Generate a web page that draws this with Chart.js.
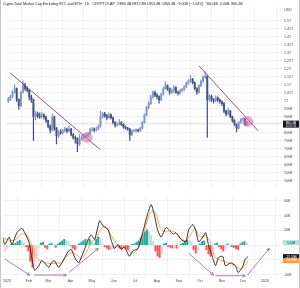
<!DOCTYPE html>
<html>
<head>
<meta charset="utf-8">
<script src="https://cdn.jsdelivr.net/npm/chart.js@4.4.1/dist/chart.umd.min.js"></script>
<style>
html, body { margin: 0; padding: 0; background: #fff; }
#wrap { position: relative; width: 300px; height: 288px; box-sizing: border-box;
  border-left: 1px solid #c9c9c9; border-right: 1px solid #c9c9c9; overflow: hidden; }
#top { position: absolute; left: 0; top: 0; }
#bottom { position: absolute; left: 0; top: 193px; }
#title { position: absolute; left: 2px; top: 2px; z-index: 2; white-space: nowrap;
  font: 3.6px 'Liberation Sans', Arial, sans-serif; color: #131722; }
</style>
</head>
<body>
<div id="wrap">
  <div id="title">Crypto Total Market Cap Excluding BTC and ETH · 1D · CRYPTOCAP&nbsp;&nbsp;O869.4B H872.8B L853.4B C860.4B −9.00B (−1.04%)&nbsp;&nbsp;&nbsp;860.4B&nbsp;&nbsp;0.00B&nbsp;&nbsp;860.4B</div>
  <canvas id="top" width="298" height="193"></canvas>
  <canvas id="bottom" width="298" height="95"></canvas>
</div>
<script>
// days counted from 1 Jan 2025
const days = [-3,0,3,6,9,12,15,18,21,24,27,30,33,36,39,42,45,48,51,54,57,60,63,66,69,72,75,78,81,84,
  87,90,93,96,99,102,105,108,111,114,117,120,123,126,129,132,135,138,141,144,147,150,153,156,159,162,165,168,171,174,
  177,180,183,186,189,192,195,198,201,204,207,210,213,216,219,222,225,228,231,234,237,240,243,246,249,252,255,258,261,264,
  267,270,273,276,279,282,285,288,291,294,297,300,303,306,309,312,315,318,321,324,327,330,333,336,339];

// price in billions USD
const opens = [1000,1010,1025,1053,1076,1006,970,1053,1100,1076,1065,1025,1006,900,918,906,900,912,900,876,841,818,900,829,782,806,800,812,824,812,
  824,788,771,765,730,759,771,777,782,794,818,824,818,824,841,900,918,906,894,912,894,865,847,853,865,853,835,829,824,788,
  812,814,818,812,829,865,912,959,982,1025,1053,1035,1025,1006,1041,1076,1094,1076,1053,1065,1082,1053,1047,1065,1070,1088,1112,1123,1135,1112,
  1076,1053,1094,1123,1147,1153,1006,1029,1006,1000,1018,1006,994,982,935,918,935,900,876,853,829,865,882,888,853];
const highs = [1022,1035,1062,1100,1080,1012,1060,1125,1110,1088,1070,1035,1012,935,930,925,930,920,905,880,848,918,905,835,815,820,822,835,830,842,
  828,795,780,770,790,785,790,792,800,830,835,830,835,850,935,930,928,915,925,918,898,870,862,882,870,858,842,835,828,818,
  822,826,824,838,872,918,965,995,1035,1062,1060,1045,1030,1048,1085,1120,1100,1080,1072,1095,1088,1060,1072,1078,1095,1118,1130,1158,1140,1118,
  1082,1100,1130,1155,1182,1160,1040,1035,1015,1030,1025,1012,1000,988,942,955,940,905,882,858,872,890,895,892,870];
const lows = [988,1000,1018,1045,995,947,962,1048,1065,1055,1005,990,753,880,895,888,895,885,865,830,800,810,815,730,770,790,792,805,800,805,
  780,760,735,682,720,752,765,770,775,788,810,805,812,818,836,890,898,880,888,885,855,835,840,848,845,828,822,815,753,782,
  805,806,805,808,824,860,905,950,975,1015,1025,1012,985,1000,1035,1070,1065,1040,1045,1050,1045,1035,1040,1055,1062,1080,1100,1115,1105,1068,
  1040,1048,1088,1115,1140,771,995,995,985,992,995,985,970,925,905,912,895,865,845,806,824,858,875,845,848];
const closes = [1010,1025,1053,1076,1006,970,1053,1100,1076,1065,1025,1006,900,918,906,900,912,900,876,841,818,900,829,782,806,800,812,824,812,824,
  788,771,765,730,759,771,777,782,794,818,824,818,824,841,900,918,906,894,912,894,865,847,853,865,853,835,829,824,788,812,
  814,818,812,829,865,912,959,982,1025,1053,1035,1025,1006,1041,1076,1094,1076,1053,1065,1082,1053,1047,1065,1070,1088,1112,1123,1135,1112,1076,
  1053,1094,1123,1147,1153,1006,1029,1006,1000,1018,1006,994,982,935,918,935,900,876,853,829,865,882,888,853,860.4];

// MACD pane, billions
const macdDays = [-7,-3,3,7,14,21,25,31,35,39,45,49,53,59,63,67,73,77,87,91,96,101,105,110,115,119,124,131,136,143,
  147,152,157,162,166,173,178,185,192,199,204,208,213,218,225,229,235,239,246,253,257,263,267,271,277,281,285,291,295,299,
  305,309,316,323,327,333,337,341];
const macdLine = [14,1,11,1,17,23,17,4.5,-17,-34,-28,-21,-24,-30,-24,-21,-30,-25,-8,-6,-17,-24,-17,-4.5,8,14,8,33,26,21,
  8,-4.5,0.6,-6,-2,-15,-8,-4.5,17,43,55,43,21,11,24,21,15,17,8,4.5,21,28,20,4.5,11,17,0.6,-17,-28,-17,
  -15,-28,-24,-28,-37,-30,-19,-15.5];
const signalDays = [-7,0,7,14,21,28,35,42,49,56,63,70,77,84,91,98,105,112,119,126,133,140,147,154,161,168,175,182,189,196,
  203,210,217,224,231,238,245,252,259,266,273,280,287,294,301,308,315,322,329,336,341];
const signalLine = [10,8,6,9,15,14,0,-18,-22,-24,-25,-24,-24,-16,-10,-13,-18,-10,4,9,22,25,14,3,-2,-4,-10,-9,3,25,
  45,44,23,18,20,17,11,6,13,22,11,13,6,-16,-20,-22,-25,-26,-32,-28,-20.9];
const histogram = [-9,-5,-2,1,2,3,5,7,6,3,-2,-8,-22,-30,-26,-14,-4,3,4,-3,-5,2,3,1,-3,2,4,6,8,7,
  5,-1,-4,-6,-4,2,4,6,8,7,8,5,3,8,11,9,2,-2,-4,-6,-6,-5,-4,-3,-4,-5,-4,-5,-6,-3,
  1,2,4,6,10,14,18,21,18,13,5,-8,-15,-17,-12,2,3,-2,-3,-4,-3,-4,-3,1,3,5,7,6,4,-6,
  -11,-8,2,5,6,-6,-12,-15,-12,2,3,-2,-5,-8,-6,2,1,-2,-3,-5,-6,2,4,5,3.4];

// axis ticks
const monthDays = [0,31,59,90,120,151,181,212,243,273,304,334,365];
const monthLabels = ['2025','Feb','Mar','Apr','May','Jun','Jul','Aug','Sep','Oct','Nov','Dec','2026'];
const priceTicks = [500,550,600,650,700,750,800,850,900,950,1000,1050,1100,1150,1200,1250,1300,1350,1400,1450,1500];
const macdTicks = [60,40,20,0,-20,-40];
const macdTickLabels = ['60B','40B','20B','','','-40B'];

// drawings: [day0, value0, day1, value1]
const trendLines = [[-1,1176,129,694],[270,1218,355,812]];
const markers = [[110,771],[340,871]];
const arrows = [[-3,-18.7,32,-40.6],[38,-40.6,84,-40.6],[88,-36.8,129,-4.5],
  [257,-11,292,-40.6],[295,-41.5,337,-41.5],[340,-40.6,371,-4.5]];

const X_MIN = -5.6, X_MAX = 389;
const FONT = 'Liberation Sans, Arial, sans-serif';
const GRID = '#eef0f4';
const UP = '#8398c8', DOWN = '#44547d';
const PURPLE = '#8e3c80';

function fmtPrice(v) {
  if (v >= 1000) return (Math.round(v / 10) / 100) + 'T';
  return v + 'B';
}

function xScale(showLabels) {
  return {
    type: 'linear', min: X_MIN, max: X_MAX, offset: false,
    afterBuildTicks: s => { s.ticks = monthDays.map(v => ({ value: v })); },
    afterFit: s => { s.height = showLabels ? 11 : 0; },
    grid: { color: GRID, lineWidth: 1, drawTicks: false },
    border: { display: false },
    ticks: {
      display: showLabels, autoSkip: false, maxRotation: 0, padding: 2,
      color: '#4a4a4a', font: { size: 3.6, family: FONT },
      callback: (v, i) => monthLabels[i]
    }
  };
}

const tagPlugin = {
  id: 'tags',
  afterDraw(chart, args, opts) {
    const ctx = chart.ctx, ca = chart.chartArea, y = chart.scales.y;
    (opts.items || []).forEach(t => {
      const py = y.getPixelForValue(t.value);
      const h = t.lines.length > 1 ? 7 : 5;
      ctx.save();
      ctx.fillStyle = t.bg;
      ctx.fillRect(ca.right + 1, py - 2.5, chart.width - ca.right - 1, h);
      ctx.fillStyle = t.fg;
      ctx.textAlign = 'center';
      ctx.textBaseline = 'middle';
      const cx = (ca.right + 1 + chart.width) / 2;
      ctx.font = '3.3px ' + FONT;
      ctx.fillText(t.lines[0], cx, py);
      if (t.lines[1]) { ctx.font = '2.7px ' + FONT; ctx.fillText(t.lines[1], cx, py + 2.8); }
      ctx.restore();
    });
  }
};

const arrowPlugin = {
  id: 'arrowHeads',
  afterDatasetsDraw(chart) {
    const ctx = chart.ctx;
    chart.data.datasets.forEach((ds, i) => {
      if (!ds.arrowHead) return;
      const pts = chart.getDatasetMeta(i).data;
      const a = pts[pts.length - 2], b = pts[pts.length - 1];
      const ang = Math.atan2(b.y - a.y, b.x - a.x);
      ctx.save();
      ctx.strokeStyle = ds.borderColor;
      ctx.lineWidth = ds.borderWidth;
      ctx.beginPath();
      ctx.moveTo(b.x - 3.2 * Math.cos(ang - 0.5), b.y - 3.2 * Math.sin(ang - 0.5));
      ctx.lineTo(b.x, b.y);
      ctx.lineTo(b.x - 3.2 * Math.cos(ang + 0.5), b.y - 3.2 * Math.sin(ang + 0.5));
      ctx.stroke();
      ctx.restore();
    });
  }
};

const candleColor = c => closes[c.dataIndex] >= opens[c.dataIndex] ? UP : DOWN;
const last = arr => arr[arr.length - 1];

new Chart(document.getElementById('top'), {
  type: 'line',
  data: {
    datasets: [
      {
        type: 'line', showLine: false,
        data: markers.map(m => ({ x: m[0], y: m[1] })),
        pointRadius: 5, pointBackgroundColor: 'rgba(214,104,170,0.55)',
        pointBorderColor: 'rgba(190,80,150,0.6)', pointBorderWidth: 0.5
      },
      ...trendLines.map(t => ({
        type: 'line', data: [{ x: t[0], y: t[1] }, { x: t[2], y: t[3] }],
        borderColor: PURPLE, borderWidth: 0.9, pointRadius: 0
      })),
      {
        type: 'line', data: [{ x: X_MIN, y: last(closes) }, { x: X_MAX, y: last(closes) }],
        borderColor: '#9aa0ad', borderWidth: 0.6, borderDash: [1, 1], pointRadius: 0
      },
      {
        type: 'bar', grouped: false, barThickness: 1.3, minBarLength: 0.6,
        data: days.map((d, i) => ({ x: d, y: [Math.min(opens[i], closes[i]), Math.max(opens[i], closes[i])] })),
        backgroundColor: candleColor
      },
      {
        type: 'bar', grouped: false, barThickness: 0.6,
        data: days.map((d, i) => ({ x: d, y: [lows[i], highs[i]] })),
        backgroundColor: candleColor
      }
    ]
  },
  options: {
    responsive: false, animation: false, devicePixelRatio: 1,
    layout: { padding: 0 },
    plugins: {
      legend: { display: false }, tooltip: { enabled: false },
      tags: { items: [{ value: last(closes), lines: [last(closes).toFixed(1) + 'B', '10:57:41'], bg: '#131722', fg: '#ffffff' }] }
    },
    scales: {
      x: xScale(false),
      y: {
        position: 'right', min: 459, max: 1594,
        afterBuildTicks: s => { s.ticks = priceTicks.map(v => ({ value: v })).concat([{ value: 1565 }]); },
        afterFit: s => { s.width = 17; },
        grid: { color: c => c.tick && c.tick.value === 1565 ? 'rgba(0,0,0,0)' : GRID, drawTicks: false },
        border: { display: false },
        ticks: {
          padding: 2, color: '#4a4a4a', font: { size: 3.6, family: FONT },
          callback: v => v === 1565 ? 'USD' : fmtPrice(v)
        }
      }
    }
  },
  plugins: [tagPlugin]
});

new Chart(document.getElementById('bottom'), {
  type: 'line',
  data: {
    datasets: [
      ...arrows.map(a => ({
        type: 'line', arrowHead: true, data: [{ x: a[0], y: a[1] }, { x: a[2], y: a[3] }],
        borderColor: '#94619f', borderWidth: 0.8, pointRadius: 0
      })),
      {
        type: 'line', data: macdDays.map((d, i) => ({ x: d, y: macdLine[i] })),
        borderColor: '#1b1b1b', borderWidth: 0.9, pointRadius: 0, tension: 0.2
      },
      {
        type: 'line', data: signalDays.map((d, i) => ({ x: d, y: signalLine[i] })),
        borderColor: '#ff9a3c', borderWidth: 0.9, pointRadius: 0, tension: 0.3
      },
      {
        type: 'bar', grouped: false, barThickness: 1.3,
        data: days.map((d, i) => ({ x: d, y: histogram[i] })),
        backgroundColor: c => {
          const i = c.dataIndex, v = histogram[i], p = i > 0 ? histogram[i - 1] : v;
          if (v >= 0) return v >= p ? '#26a69a' : '#b2dfdb';
          return v < p ? '#ff5252' : '#ffcdd2';
        }
      }
    ]
  },
  options: {
    responsive: false, animation: false, devicePixelRatio: 1,
    layout: { padding: 0 },
    plugins: {
      legend: { display: false }, tooltip: { enabled: false },
      tags: { items: [
        { value: last(histogram), lines: [last(histogram).toFixed(2) + 'B'], bg: '#b2dfdb', fg: '#1d5e58' },
        { value: last(macdLine), lines: [last(macdLine).toFixed(2) + 'B'], bg: '#131722', fg: '#ffffff' },
        { value: last(signalLine), lines: [last(signalLine).toFixed(2) + 'B'], bg: '#ff9a3c', fg: '#ffffff' }
      ] }
    },
    scales: {
      x: xScale(true),
      y: {
        position: 'right', min: -43.2, max: 65.2,
        afterBuildTicks: s => { s.ticks = macdTicks.map(v => ({ value: v })); },
        afterFit: s => { s.width = 17; },
        grid: { color: GRID, drawTicks: false },
        border: { display: false },
        ticks: {
          padding: 2, color: '#4a4a4a', font: { size: 3.6, family: FONT },
          callback: (v, i) => macdTickLabels[i]
        }
      }
    }
  },
  plugins: [tagPlugin, arrowPlugin]
});
</script>
</body>
</html>
